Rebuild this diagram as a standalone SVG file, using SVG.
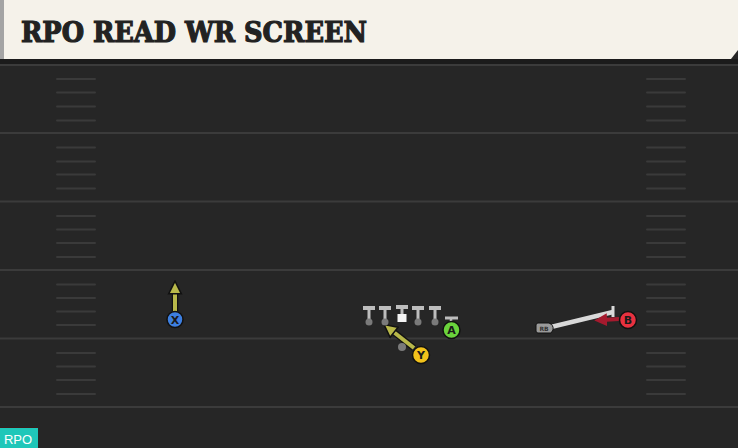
<svg xmlns="http://www.w3.org/2000/svg" width="738" height="448" viewBox="0 0 738 448">
<defs>
<style>
.yl{stroke:#3b3b3b;stroke-width:2}
.hm{stroke:#3a3a3a;stroke-width:2;stroke-linecap:round}
.lbl{font-family:"DejaVu Sans","Liberation Sans",sans-serif;font-weight:bold;font-size:11px;fill:#1a1a1a;text-anchor:middle}
.ol{fill:#bdbdbd}
.dot{fill:#7a7a7a}
.rt-o{stroke:#111;stroke-width:6.5}
.rt-y{stroke:#b8b84a;stroke-width:4}
</style>
<marker id="ah-y" viewBox="0 0 12 12" refX="4" refY="6" markerWidth="3.8" markerHeight="3.8" orient="auto"><path d="M1,1 L11,6 L1,11 Z" fill="#b8b84a" stroke="#111" stroke-width="1.2"/></marker>
<marker id="ah-r" viewBox="0 0 10 10" refX="4" refY="5" markerWidth="3.2" markerHeight="3.2" orient="auto"><path d="M0,0 L10,5 L0,10 Z" fill="#a51a2e"/></marker>
</defs>
<rect width="738" height="448" fill="#262626"/>
<g id="field">
<line class="yl" x1="0" y1="65" x2="738" y2="65"/>
<line class="yl" x1="0" y1="133" x2="738" y2="133"/>
<line class="yl" x1="0" y1="201.5" x2="738" y2="201.5"/>
<line class="yl" x1="0" y1="270" x2="738" y2="270"/>
<line class="yl" x1="0" y1="338.5" x2="738" y2="338.5"/>
<line class="yl" x1="0" y1="407" x2="738" y2="407"/>
<g id="hash-left">
<line class="hm" x1="57" y1="79" x2="95" y2="79"/>
<line class="hm" x1="57" y1="92.5" x2="95" y2="92.5"/>
<line class="hm" x1="57" y1="106.5" x2="95" y2="106.5"/>
<line class="hm" x1="57" y1="120.5" x2="95" y2="120.5"/>
<line class="hm" x1="57" y1="147.5" x2="95" y2="147.5"/>
<line class="hm" x1="57" y1="161.5" x2="95" y2="161.5"/>
<line class="hm" x1="57" y1="174.5" x2="95" y2="174.5"/>
<line class="hm" x1="57" y1="188.5" x2="95" y2="188.5"/>
<line class="hm" x1="57" y1="216" x2="95" y2="216"/>
<line class="hm" x1="57" y1="229.5" x2="95" y2="229.5"/>
<line class="hm" x1="57" y1="243" x2="95" y2="243"/>
<line class="hm" x1="57" y1="257" x2="95" y2="257"/>
<line class="hm" x1="57" y1="284.5" x2="95" y2="284.5"/>
<line class="hm" x1="57" y1="298" x2="95" y2="298"/>
<line class="hm" x1="57" y1="311.5" x2="95" y2="311.5"/>
<line class="hm" x1="57" y1="325" x2="95" y2="325"/>
<line class="hm" x1="57" y1="353" x2="95" y2="353"/>
<line class="hm" x1="57" y1="366.5" x2="95" y2="366.5"/>
<line class="hm" x1="57" y1="380" x2="95" y2="380"/>
<line class="hm" x1="57" y1="394" x2="95" y2="394"/>
</g>
<g id="hash-right">
<line class="hm" x1="647" y1="79" x2="685" y2="79"/>
<line class="hm" x1="647" y1="92.5" x2="685" y2="92.5"/>
<line class="hm" x1="647" y1="106.5" x2="685" y2="106.5"/>
<line class="hm" x1="647" y1="120.5" x2="685" y2="120.5"/>
<line class="hm" x1="647" y1="147.5" x2="685" y2="147.5"/>
<line class="hm" x1="647" y1="161.5" x2="685" y2="161.5"/>
<line class="hm" x1="647" y1="174.5" x2="685" y2="174.5"/>
<line class="hm" x1="647" y1="188.5" x2="685" y2="188.5"/>
<line class="hm" x1="647" y1="216" x2="685" y2="216"/>
<line class="hm" x1="647" y1="229.5" x2="685" y2="229.5"/>
<line class="hm" x1="647" y1="243" x2="685" y2="243"/>
<line class="hm" x1="647" y1="257" x2="685" y2="257"/>
<line class="hm" x1="647" y1="284.5" x2="685" y2="284.5"/>
<line class="hm" x1="647" y1="298" x2="685" y2="298"/>
<line class="hm" x1="647" y1="311.5" x2="685" y2="311.5"/>
<line class="hm" x1="647" y1="325" x2="685" y2="325"/>
<line class="hm" x1="647" y1="353" x2="685" y2="353"/>
<line class="hm" x1="647" y1="366.5" x2="685" y2="366.5"/>
<line class="hm" x1="647" y1="380" x2="685" y2="380"/>
<line class="hm" x1="647" y1="394" x2="685" y2="394"/>
</g>
</g>
<g id="header">
<rect x="0" y="59" width="738" height="5" fill="#1b1b1b"/>
<path d="M0,0 H738 V50 L731,59 H0 Z" fill="#f5f2ea"/>
<rect x="0" y="0" width="4" height="59" fill="#a4a4a4"/>
<text x="21" y="42" font-family="'DejaVu Serif','Liberation Serif',serif" font-weight="bold" font-size="28" fill="#222" stroke="#222" stroke-width="1.2" textLength="346" lengthAdjust="spacingAndGlyphs">RPO READ WR SCREEN</text>
</g>
<g id="connectors">
<line class="rt-o" x1="175" y1="311" x2="175" y2="289"/>
<line class="rt-y" x1="175" y1="311" x2="175" y2="290" marker-end="url(#ah-y)"/>
<line class="rt-o" x1="414" y1="348" x2="390" y2="329"/>
<line class="rt-y" x1="414" y1="348" x2="391" y2="330" marker-end="url(#ah-y)"/>
<line x1="551" y1="327" x2="613" y2="312" stroke="#d9d9d9" stroke-width="4.5"/>
<line x1="613" y1="306" x2="613" y2="317" stroke="#d9d9d9" stroke-width="3"/>
<line x1="619" y1="319" x2="602" y2="320" stroke="#a51a2e" stroke-width="4" marker-end="url(#ah-r)"/>
<line x1="451" y1="318" x2="451" y2="324" stroke="#bdbdbd" stroke-width="2.5"/>
<line x1="445" y1="318" x2="458" y2="318" stroke="#bdbdbd" stroke-width="3"/>
</g>
<g id="ol-lt"><rect class="ol" x="363" y="306" width="12" height="4"/><rect class="ol" x="367.5" y="308" width="3" height="13"/><circle class="dot" cx="369" cy="322" r="3.5"/></g>
<g id="ol-lg"><rect class="ol" x="379" y="306" width="12" height="4"/><rect class="ol" x="383.5" y="308" width="3" height="13"/><circle class="dot" cx="385" cy="322" r="3.5"/></g>
<g id="ol-c"><rect class="ol" x="396" y="305" width="12" height="4"/><rect class="ol" x="400.5" y="307" width="3" height="7"/><rect x="397.5" y="314" width="9" height="8" fill="#f5f5f5"/></g>
<g id="ol-rg"><rect class="ol" x="412" y="306" width="12" height="4"/><rect class="ol" x="416.5" y="308" width="3" height="13"/><circle class="dot" cx="418" cy="322" r="3.5"/></g>
<g id="ol-rt"><rect class="ol" x="429" y="306" width="12" height="4"/><rect class="ol" x="433.5" y="308" width="3" height="13"/><circle class="dot" cx="435" cy="322" r="3.5"/></g>
<g id="qb"><circle class="dot" cx="402" cy="347" r="4"/></g>
<g id="X"><circle cx="175" cy="319.5" r="8" fill="#3d7fe0" stroke="#111" stroke-width="1.5"/><text class="lbl" x="175" y="323.5">X</text></g>
<g id="A"><circle cx="451.5" cy="330" r="8.5" fill="#6ad33c" stroke="#111" stroke-width="1.5"/><text class="lbl" x="451.5" y="334">A</text></g>
<g id="Y"><circle cx="421" cy="355" r="8.5" fill="#f2c21b" stroke="#111" stroke-width="1.5"/><text class="lbl" x="421" y="359">Y</text></g>
<g id="B"><circle cx="628" cy="320" r="8.5" fill="#e8313f" stroke="#111" stroke-width="1.5"/><text class="lbl" x="628" y="324">B</text></g>
<g id="RB"><path d="M538,323 H549 Q554,325 553,330 L551,333 H538 Q536,333 536,331 V325 Q536,323 538,323 Z" fill="#9a9a9a" stroke="#111" stroke-width="1"/><text x="544" y="331" font-family="'DejaVu Sans',sans-serif" font-size="6" font-weight="bold" fill="#333" text-anchor="middle">RB</text></g>
<g id="rpo-tag"><rect x="0" y="428" width="38" height="20" fill="#1fc7b9"/><rect x="0" y="427" width="38" height="1" fill="#3a1a1a"/><text x="18" y="444" font-family="'Liberation Sans','DejaVu Sans',sans-serif" font-size="13" fill="#ffffff" text-anchor="middle">RPO</text></g>
</svg>
